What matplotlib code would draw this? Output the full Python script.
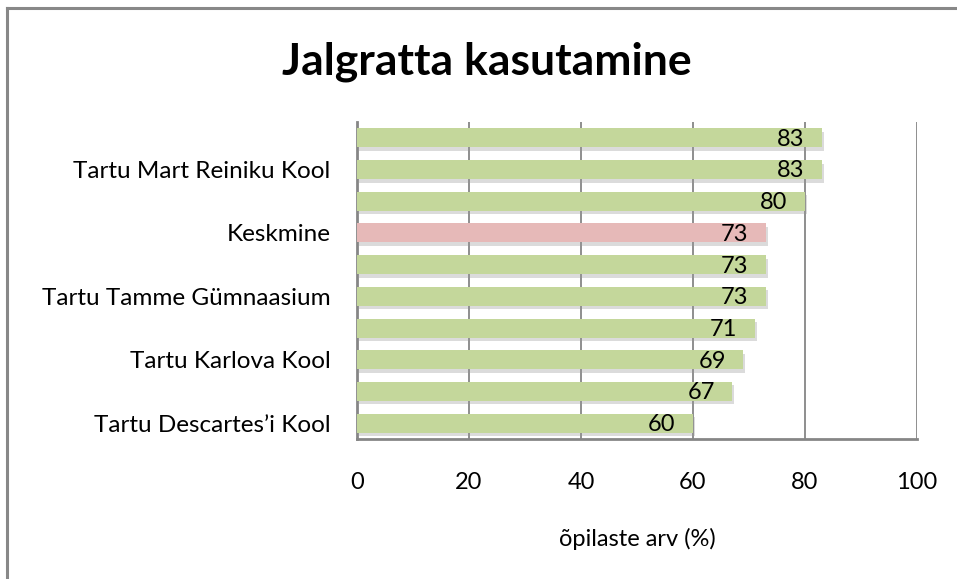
import matplotlib
matplotlib.use('Agg')
import matplotlib.pyplot as plt
import matplotlib.patheffects as pe
from matplotlib.lines import Line2D

plt.rcParams['font.family'] = ['Lato', 'DejaVu Sans']

# data, bottom to top
schools = ["Tartu Descartes\u2019i Kool", "", "Tartu Karlova Kool", "",
           "Tartu Tamme Gümnaasium", "", "Keskmine", "",
           "Tartu Mart Reiniku Kool", ""]
values = [60, 67, 69, 71, 73, 73, 73, 80, 83, 83]
highlight = "Keskmine"

green = '#c4d79b'
pink = '#e6b9b8'
grid_col = '#868686'

fig = plt.figure(figsize=(9.57, 5.79), dpi=100)
ax = fig.add_axes([357 / 957, 1 - 439 / 579, 560 / 957, 317 / 579])

pos = list(range(len(values)))
colors = [pink if s == highlight else green for s in schools]
bars = ax.barh(pos, values, height=0.6, color=colors, zorder=3)
for b in bars:
    b.set_path_effects([pe.SimplePatchShadow(offset=(1.5, -2.5), shadow_rgbFace='#999999', alpha=0.35),
                        pe.Normal()])

for b, v in zip(bars, values):
    ax.annotate(str(v), (v, b.get_y() + b.get_height() / 2), xytext=(-12.5, -1),
                textcoords='offset points', ha='right', va='center',
                fontsize=17, zorder=4)

ax.set_xlim(0, 100)
ax.set_ylim(-0.5, len(values) - 0.5)
ax.set_xticks([0, 20, 40, 60, 80, 100])
ax.set_yticks(pos)
ax.set_yticklabels(schools)
ax.tick_params(axis='x', length=0, pad=24, labelsize=17)
ax.tick_params(axis='y', length=0, pad=19, labelsize=17.5)
ax.grid(True, axis='x', color=grid_col, linewidth=1.3, zorder=0)
ax.set_axisbelow(True)
for s in ['top', 'right']:
    ax.spines[s].set_visible(False)
for s in ['left', 'bottom']:
    ax.spines[s].set_color(grid_col)
    ax.spines[s].set_linewidth(2)

ax.set_xlabel('õpilaste arv (%)', fontsize=17, labelpad=25)

fig.text(487 / 957, 1 - 62 / 579, 'Jalgratta kasutamine', ha='center', va='center',
         fontsize=32, fontweight='bold')

# chart frame (only left and top edges visible)
fig.add_artist(Line2D([7 / 957, 7 / 957], [0, 1 - 8 / 579], color='#888888', linewidth=2.2,
                      transform=fig.transFigure))
fig.add_artist(Line2D([7 / 957, 1], [1 - 8 / 579, 1 - 8 / 579], color='#888888', linewidth=2.2,
                      transform=fig.transFigure))

fig.savefig('out.png', dpi=100)
